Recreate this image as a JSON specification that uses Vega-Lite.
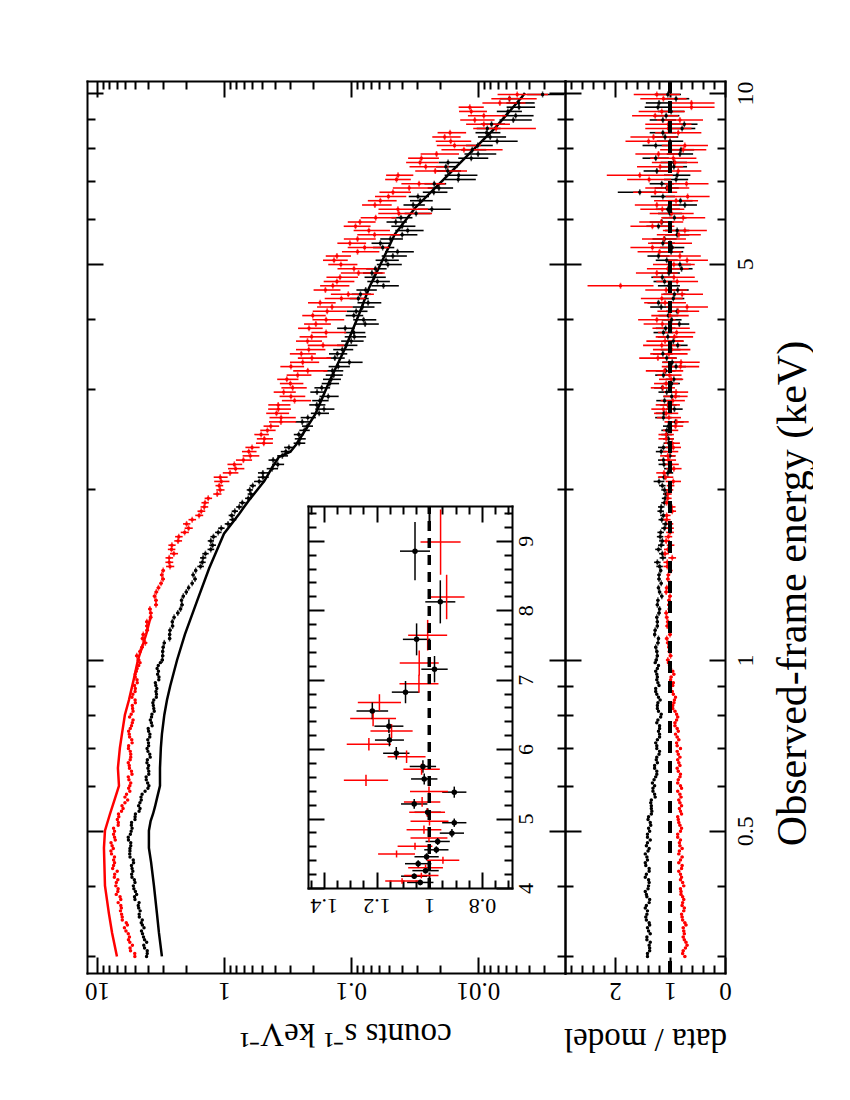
{
"$schema":"https://vega.github.io/schema/vega-lite/v6.json",
"padding":{"left":84,"top":79,"right":0,"bottom":0},
"background":"white",
"spacing":0,
"bounds":"flush",
"config":{"view":{"stroke":null},"font":"Liberation Serif",
"axis":{"grid":false,"domainColor":"black","tickColor":"black","labelColor":"black","titleColor":"black","domainWidth":2,"tickWidth":2,"labelFont":"Liberation Serif","titleFont":"Liberation Serif","titleFontWeight":"normal","labelFontSize":24,"labelFlush":false,"labelOverlap":false,"labelBound":false,"domainCap":"square","titleLimit":1000}},
"datasets":{
"model":[
{"s":"b","e":0.30,"m":3.08},{"s":"b","e":0.33,"m":3.25},{"s":"b","e":0.357,"m":3.37},{"s":"b","e":0.40,"m":3.56},{"s":"b","e":0.44,"m":3.75},{"s":"b","e":0.466,"m":3.90},{"s":"b","e":0.50,"m":3.90},{"s":"b","e":0.52,"m":3.78},{"s":"b","e":0.535,"m":3.62},{"s":"b","e":0.55,"m":3.50},{"s":"b","e":0.57,"m":3.37},{"s":"b","e":0.60,"m":3.19},{"s":"b","e":0.645,"m":3.19},{"s":"b","e":0.70,"m":3.14},{"s":"b","e":0.74,"m":3.08},{"s":"b","e":0.80,"m":2.95},{"s":"b","e":0.85,"m":2.81},{"s":"b","e":0.90,"m":2.65},{"s":"b","e":1.0,"m":2.34},{"s":"b","e":1.11,"m":2.03},{"s":"b","e":1.27,"m":1.63},{"s":"b","e":1.45,"m":1.31},{"s":"b","e":1.67,"m":1.00},{"s":"b","e":1.81,"m":0.76},{"s":"b","e":1.91,"m":0.64},{"s":"b","e":2.07,"m":0.48},{"s":"b","e":2.18,"m":0.42},{"s":"b","e":2.28,"m":0.37},{"s":"b","e":2.33,"m":0.30},{"s":"b","e":2.40,"m":0.27},{"s":"b","e":2.72,"m":0.19},{"s":"b","e":3.10,"m":0.148},{"s":"b","e":3.55,"m":0.111},{"s":"b","e":4.08,"m":0.0861},{"s":"b","e":4.53,"m":0.0721},{"s":"b","e":5.05,"m":0.0570},{"s":"b","e":5.64,"m":0.0451},{"s":"b","e":6.27,"m":0.0313},{"s":"b","e":6.99,"m":0.0192},{"s":"b","e":7.80,"m":0.0118},{"s":"b","e":8.67,"m":0.00735},{"s":"b","e":9.84,"m":0.00451},{"s":"b","e":10.0,"m":0.00427},
{"s":"r","e":0.30,"m":6.96},{"s":"r","e":0.33,"m":7.6},{"s":"r","e":0.357,"m":8.05},{"s":"r","e":0.40,"m":8.65},{"s":"r","e":0.466,"m":8.81},{"s":"r","e":0.50,"m":8.65},{"s":"r","e":0.535,"m":7.90},{"s":"r","e":0.57,"m":7.21},{"s":"r","e":0.60,"m":6.71},{"s":"r","e":0.645,"m":6.84},{"s":"r","e":0.70,"m":6.6},{"s":"r","e":0.74,"m":6.36},{"s":"r","e":0.80,"m":6.03},{"s":"r","e":0.85,"m":5.6},{"s":"r","e":0.93,"m":5.1},{"s":"r","e":1.0,"m":4.76},{"s":"r","e":1.11,"m":4.1},{"s":"r","e":1.2,"m":3.75}
],
"spec":[
{"s":"b","e":0.300,"c":4.07,"dc":0.06,"r":1.41,"dr":0.02},{"s":"b","e":0.307,"c":4.02,"dc":0.06,"r":1.37,"dr":0.02},{"s":"b","e":0.314,"c":4.28,"dc":0.06,"r":1.38,"dr":0.02},{"s":"b","e":0.321,"c":4.22,"dc":0.06,"r":1.42,"dr":0.02},{"s":"b","e":0.329,"c":4.38,"dc":0.06,"r":1.36,"dr":0.02},{"s":"b","e":0.337,"c":4.26,"dc":0.06,"r":1.41,"dr":0.02},{"s":"b","e":0.344,"c":4.48,"dc":0.07,"r":1.38,"dr":0.02},{"s":"b","e":0.352,"c":4.64,"dc":0.07,"r":1.44,"dr":0.02},{"s":"b","e":0.361,"c":4.57,"dc":0.07,"r":1.41,"dr":0.02},{"s":"b","e":0.369,"c":4.73,"dc":0.07,"r":1.43,"dr":0.02},{"s":"b","e":0.378,"c":5.02,"dc":0.07,"r":1.37,"dr":0.02},{"s":"b","e":0.386,"c":4.87,"dc":0.07,"r":1.43,"dr":0.02},{"s":"b","e":0.395,"c":5.12,"dc":0.08,"r":1.40,"dr":0.02},{"s":"b","e":0.405,"c":5.02,"dc":0.08,"r":1.38,"dr":0.02},{"s":"b","e":0.414,"c":5.30,"dc":0.08,"r":1.45,"dr":0.02},{"s":"b","e":0.424,"c":5.22,"dc":0.08,"r":1.38,"dr":0.02},{"s":"b","e":0.434,"c":5.35,"dc":0.08,"r":1.44,"dr":0.02},{"s":"b","e":0.444,"c":5.18,"dc":0.08,"r":1.41,"dr":0.02},{"s":"b","e":0.455,"c":5.52,"dc":0.08,"r":1.45,"dr":0.02},{"s":"b","e":0.465,"c":5.50,"dc":0.08,"r":1.38,"dr":0.02},{"s":"b","e":0.476,"c":5.42,"dc":0.08,"r":1.41,"dr":0.02},{"s":"b","e":0.487,"c":5.67,"dc":0.08,"r":1.41,"dr":0.02},{"s":"b","e":0.499,"c":5.38,"dc":0.08,"r":1.37,"dr":0.02},{"s":"b","e":0.511,"c":5.36,"dc":0.08,"r":1.35,"dr":0.02},{"s":"b","e":0.523,"c":5.02,"dc":0.08,"r":1.40,"dr":0.02},{"s":"b","e":0.535,"c":4.98,"dc":0.07,"r":1.34,"dr":0.02},{"s":"b","e":0.547,"c":4.58,"dc":0.07,"r":1.34,"dr":0.02},{"s":"b","e":0.560,"c":4.59,"dc":0.07,"r":1.35,"dr":0.02},{"s":"b","e":0.573,"c":4.50,"dc":0.07,"r":1.27,"dr":0.02},{"s":"b","e":0.587,"c":4.18,"dc":0.06,"r":1.31,"dr":0.02},{"s":"b","e":0.600,"c":3.90,"dc":0.06,"r":1.28,"dr":0.02},{"s":"b","e":0.615,"c":4.09,"dc":0.06,"r":1.29,"dr":0.02},{"s":"b","e":0.629,"c":3.91,"dc":0.06,"r":1.24,"dr":0.02},{"s":"b","e":0.644,"c":3.97,"dc":0.06,"r":1.28,"dr":0.02},{"s":"b","e":0.659,"c":4.04,"dc":0.06,"r":1.23,"dr":0.02},{"s":"b","e":0.674,"c":3.81,"dc":0.06,"r":1.24,"dr":0.02},{"s":"b","e":0.690,"c":3.97,"dc":0.06,"r":1.19,"dr":0.02},{"s":"b","e":0.706,"c":3.92,"dc":0.06,"r":1.24,"dr":0.02},{"s":"b","e":0.723,"c":3.98,"dc":0.06,"r":1.23,"dr":0.02},{"s":"b","e":0.740,"c":3.83,"dc":0.06,"r":1.19,"dr":0.02},{"s":"b","e":0.757,"c":3.95,"dc":0.06,"r":1.19,"dr":0.02},{"s":"b","e":0.775,"c":3.73,"dc":0.06,"r":1.24,"dr":0.02},{"s":"b","e":0.793,"c":3.72,"dc":0.06,"r":1.17,"dr":0.02},{"s":"b","e":0.812,"c":3.54,"dc":0.05,"r":1.21,"dr":0.02},{"s":"b","e":0.831,"c":3.60,"dc":0.05,"r":1.23,"dr":0.02},{"s":"b","e":0.850,"c":3.57,"dc":0.05,"r":1.18,"dr":0.02},{"s":"b","e":0.870,"c":3.40,"dc":0.05,"r":1.24,"dr":0.02},{"s":"b","e":0.891,"c":3.38,"dc":0.05,"r":1.26,"dr":0.02},{"s":"b","e":0.912,"c":3.47,"dc":0.05,"r":1.22,"dr":0.02},{"s":"b","e":0.933,"c":3.25,"dc":0.05,"r":1.23,"dr":0.02},{"s":"b","e":0.955,"c":3.28,"dc":0.05,"r":1.26,"dr":0.02},{"s":"b","e":0.978,"c":3.29,"dc":0.05,"r":1.21,"dr":0.02},
{"s":"b","e":0.3035,"c":4.02,"dc":0.06,"r":1.41,"dr":0.02},{"s":"b","e":0.3106,"c":4.22,"dc":0.06,"r":1.37,"dr":0.02},{"s":"b","e":0.3177,"c":4.06,"dc":0.06,"r":1.36,"dr":0.02},{"s":"b","e":0.3248,"c":4.30,"dc":0.06,"r":1.42,"dr":0.02},{"s":"b","e":0.3328,"c":4.46,"dc":0.06,"r":1.39,"dr":0.02},{"s":"b","e":0.3409,"c":4.39,"dc":0.06,"r":1.37,"dr":0.02},{"s":"b","e":0.348,"c":4.40,"dc":0.07,"r":1.43,"dr":0.02},{"s":"b","e":0.3561,"c":4.65,"dc":0.07,"r":1.42,"dr":0.02},{"s":"b","e":0.3652,"c":4.69,"dc":0.07,"r":1.45,"dr":0.02},{"s":"b","e":0.3733,"c":4.66,"dc":0.07,"r":1.38,"dr":0.02},{"s":"b","e":0.3824,"c":5.06,"dc":0.07,"r":1.42,"dr":0.02},{"s":"b","e":0.3905,"c":4.98,"dc":0.07,"r":1.45,"dr":0.02},{"s":"b","e":0.3996,"c":5.17,"dc":0.08,"r":1.39,"dr":0.02},{"s":"b","e":0.4097,"c":5.08,"dc":0.08,"r":1.39,"dr":0.02},{"s":"b","e":0.4188,"c":5.33,"dc":0.08,"r":1.43,"dr":0.02},{"s":"b","e":0.4289,"c":5.29,"dc":0.08,"r":1.38,"dr":0.02},{"s":"b","e":0.439,"c":5.15,"dc":0.08,"r":1.45,"dr":0.02},{"s":"b","e":0.4492,"c":5.49,"dc":0.08,"r":1.42,"dr":0.02},{"s":"b","e":0.4603,"c":5.50,"dc":0.08,"r":1.40,"dr":0.02},{"s":"b","e":0.4704,"c":5.42,"dc":0.08,"r":1.43,"dr":0.02},{"s":"b","e":0.4815,"c":5.65,"dc":0.08,"r":1.36,"dr":0.02},{"s":"b","e":0.4926,"c":5.46,"dc":0.08,"r":1.41,"dr":0.02},{"s":"b","e":0.5048,"c":5.29,"dc":0.08,"r":1.39,"dr":0.02},{"s":"b","e":0.5169,"c":5.34,"dc":0.08,"r":1.36,"dr":0.02},{"s":"b","e":0.5291,"c":5.01,"dc":0.08,"r":1.39,"dr":0.02},{"s":"b","e":0.5412,"c":4.66,"dc":0.07,"r":1.33,"dr":0.02},{"s":"b","e":0.5533,"c":4.70,"dc":0.07,"r":1.34,"dr":0.02},{"s":"b","e":0.5665,"c":4.48,"dc":0.07,"r":1.34,"dr":0.02},{"s":"b","e":0.5796,"c":4.41,"dc":0.07,"r":1.28,"dr":0.02},{"s":"b","e":0.5938,"c":3.97,"dc":0.06,"r":1.31,"dr":0.02},{"s":"b","e":0.607,"c":3.99,"dc":0.06,"r":1.32,"dr":0.02},{"s":"b","e":0.6221,"c":4.10,"dc":0.06,"r":1.26,"dr":0.02},{"s":"b","e":0.6363,"c":3.91,"dc":0.06,"r":1.24,"dr":0.02},{"s":"b","e":0.6515,"c":3.92,"dc":0.06,"r":1.28,"dr":0.02},{"s":"b","e":0.6666,"c":4.01,"dc":0.06,"r":1.25,"dr":0.02},{"s":"b","e":0.6818,"c":3.84,"dc":0.06,"r":1.20,"dr":0.02},{"s":"b","e":0.698,"c":4.03,"dc":0.06,"r":1.24,"dr":0.02},{"s":"b","e":0.7142,"c":3.93,"dc":0.06,"r":1.26,"dr":0.02},{"s":"b","e":0.7314,"c":3.84,"dc":0.06,"r":1.19,"dr":0.02},{"s":"b","e":0.7486,"c":3.92,"dc":0.06,"r":1.21,"dr":0.02},{"s":"b","e":0.7658,"c":3.68,"dc":0.06,"r":1.19,"dr":0.02},{"s":"b","e":0.784,"c":3.80,"dc":0.06,"r":1.22,"dr":0.02},{"s":"b","e":0.8022,"c":3.69,"dc":0.06,"r":1.16,"dr":0.02},{"s":"b","e":0.8214,"c":3.57,"dc":0.05,"r":1.23,"dr":0.02},{"s":"b","e":0.8406,"c":3.63,"dc":0.05,"r":1.22,"dr":0.02},{"s":"b","e":0.8599,"c":3.41,"dc":0.05,"r":1.21,"dr":0.02},{"s":"b","e":0.8801,"c":3.43,"dc":0.05,"r":1.26,"dr":0.02},{"s":"b","e":0.9013,"c":3.44,"dc":0.05,"r":1.20,"dr":0.02},{"s":"b","e":0.9226,"c":3.26,"dc":0.05,"r":1.24,"dr":0.02},{"s":"b","e":0.9438,"c":3.33,"dc":0.05,"r":1.24,"dr":0.02},{"s":"b","e":0.9661,"c":3.36,"dc":0.05,"r":1.23,"dr":0.02},{"s":"b","e":0.9893,"c":3.17,"dc":0.05,"r":1.27,"dr":0.02},
{"s":"b","e":1.000,"c":3.06,"dc":0.095,"r":1.25,"dr":0.03},{"s":"b","e":1.035,"c":3.04,"dc":0.090,"r":1.24,"dr":0.03},{"s":"b","e":1.072,"c":2.95,"dc":0.086,"r":1.22,"dr":0.03},{"s":"b","e":1.109,"c":2.68,"dc":0.082,"r":1.28,"dr":0.03},{"s":"b","e":1.148,"c":2.54,"dc":0.077,"r":1.23,"dr":0.03},{"s":"b","e":1.189,"c":2.47,"dc":0.072,"r":1.24,"dr":0.03},{"s":"b","e":1.230,"c":2.20,"dc":0.068,"r":1.19,"dr":0.03},{"s":"b","e":1.274,"c":2.16,"dc":0.064,"r":1.22,"dr":0.03},{"s":"b","e":1.318,"c":1.98,"dc":0.059,"r":1.19,"dr":0.03},{"s":"b","e":1.365,"c":1.78,"dc":0.055,"r":1.16,"dr":0.03},{"s":"b","e":1.413,"c":1.75,"dc":0.050,"r":1.20,"dr":0.03},{"s":"b","e":1.462,"c":1.53,"dc":0.091,"r":1.19,"dr":0.059},{"s":"b","e":1.514,"c":1.46,"dc":0.083,"r":1.13,"dr":0.059},{"s":"b","e":1.567,"c":1.27,"dc":0.077,"r":1.21,"dr":0.059},{"s":"b","e":1.622,"c":1.27,"dc":0.072,"r":1.14,"dr":0.059},{"s":"b","e":1.679,"c":1.11,"dc":0.065,"r":1.17,"dr":0.059},{"s":"b","e":1.738,"c":0.929,"dc":0.057,"r":1.08,"dr":0.059},{"s":"b","e":1.799,"c":0.870,"dc":0.049,"r":1.12,"dr":0.059},{"s":"b","e":1.862,"c":0.758,"dc":0.044,"r":1.16,"dr":0.059},{"s":"b","e":1.928,"c":0.643,"dc":0.039,"r":1.09,"dr":0.059},{"s":"b","e":1.995,"c":0.627,"dc":0.035,"r":1.10,"dr":0.059},{"s":"b","e":2.065,"c":0.528,"dc":0.052,"r":1.20,"dr":0.098},{"s":"b","e":2.138,"c":0.494,"dc":0.046,"r":1.04,"dr":0.098},{"s":"b","e":2.213,"c":0.377,"dc":0.041,"r":1.11,"dr":0.098},{"s":"b","e":2.291,"c":0.347,"dc":0.034,"r":1.00,"dr":0.098},{"s":"b","e":2.371,"c":0.308,"dc":0.028,"r":1.12,"dr":0.098},{"s":"b","e":2.455,"c":0.252,"dc":0.025,"r":1.03,"dr":0.098},{"s":"b","e":2.541,"c":0.233,"dc":0.022,"r":1.06,"dr":0.098},{"s":"b","e":2.630,"c":0.242,"dc":0.032,"r":0.90,"dr":0.15},{"s":"b","e":2.723,"c":0.178,"dc":0.029,"r":1.11,"dr":0.15},{"s":"b","e":2.818,"c":0.186,"dc":0.027,"r":1.03,"dr":0.15},{"s":"b","e":2.917,"c":0.151,"dc":0.026,"r":0.97,"dr":0.15},{"s":"b","e":3.020,"c":0.170,"dc":0.024,"r":1.14,"dr":0.15},{"s":"b","e":3.126,"c":0.143,"dc":0.023,"r":0.93,"dr":0.15},{"s":"b","e":3.236,"c":0.140,"dc":0.025,"r":1.08,"dr":0.18},{"s":"b","e":3.350,"c":0.103,"dc":0.022,"r":0.96,"dr":0.18},{"s":"b","e":3.467,"c":0.128,"dc":0.021,"r":1.13,"dr":0.18},{"s":"b","e":3.589,"c":0.109,"dc":0.020,"r":0.86,"dr":0.18},{"s":"b","e":3.715,"c":0.094,"dc":0.018,"r":1.04,"dr":0.18},{"s":"b","e":3.846,"c":0.111,"dc":0.0175,"r":1.08,"dr":0.18},{"s":"b","e":3.981,"c":0.0796,"dc":0.0164,"r":0.97,"dr":0.18},{"s":"b","e":4.121,"c":0.0910,"dc":0.0169,"r":0.87,"dr":0.20},{"s":"b","e":4.266,"c":0.0733,"dc":0.0156,"r":1.21,"dr":0.20},{"s":"b","e":4.416,"c":0.0842,"dc":0.0145,"r":0.92,"dr":0.20},{"s":"b","e":4.571,"c":0.0555,"dc":0.0135,"r":1.02,"dr":0.20},{"s":"b","e":4.732,"c":0.0657,"dc":0.0125,"r":1.14,"dr":0.20},{"s":"b","e":4.898,"c":0.0642,"dc":0.0118,"r":0.79,"dr":0.20},{"s":"b","e":5.070,"c":0.0530,"dc":0.0110,"r":1.06,"dr":0.20},{"s":"b","e":5.248,"c":0.0430,"dc":0.0110,"r":0.98,"dr":0.22},{"s":"b","e":5.433,"c":0.0587,"dc":0.0102,"r":1.13,"dr":0.22},{"s":"b","e":5.623,"c":0.0395,"dc":0.0095,"r":0.87,"dr":0.22},{"s":"b","e":5.821,"c":0.0396,"dc":0.0085,"r":1.21,"dr":0.22},{"s":"b","e":6.026,"c":0.0404,"dc":0.0076,"r":0.92,"dr":0.22},{"s":"b","e":6.237,"c":0.0231,"dc":0.0067,"r":1.04,"dr":0.22},{"s":"b","e":6.457,"c":0.0285,"dc":0.0058,"r":0.81,"dr":0.22},{"s":"b","e":6.683,"c":0.0223,"dc":0.0049,"r":1.55,"dr":0.40},{"s":"b","e":6.918,"c":0.0221,"dc":0.0043,"r":1.15,"dr":0.22},{"s":"b","e":7.161,"c":0.0142,"dc":0.0041,"r":0.87,"dr":0.24},{"s":"b","e":7.413,"c":0.0179,"dc":0.0035,"r":0.93,"dr":0.24},{"s":"b","e":7.674,"c":0.0113,"dc":0.0030,"r":1.26,"dr":0.24},{"s":"b","e":7.943,"c":0.0111,"dc":0.0025,"r":0.80,"dr":0.24},{"s":"b","e":8.222,"c":0.00707,"dc":0.0022,"r":1.00,"dr":0.24},{"s":"b","e":8.511,"c":0.00856,"dc":0.0019,"r":1.13,"dr":0.24},{"s":"b","e":8.810,"c":0.00782,"dc":0.0017,"r":0.74,"dr":0.24},{"s":"b","e":9.120,"c":0.00505,"dc":0.0014,"r":1.07,"dr":0.24},{"s":"b","e":9.441,"c":0.00475,"dc":0.0012,"r":1.22,"dr":0.24},{"s":"b","e":9.772,"c":0.00565,"dc":0.0011,"r":0.89,"dr":0.24},
{"s":"b","e":1.017,"c":3.04,"dc":0.093,"r":1.23,"dr":0.03},{"s":"b","e":1.053,"c":3.01,"dc":0.088,"r":1.26,"dr":0.03},{"s":"b","e":1.091,"c":2.68,"dc":0.084,"r":1.21,"dr":0.03},{"s":"b","e":1.128,"c":2.66,"dc":0.079,"r":1.27,"dr":0.03},{"s":"b","e":1.168,"c":2.55,"dc":0.074,"r":1.23,"dr":0.03},{"s":"b","e":1.210,"c":2.31,"dc":0.070,"r":1.20,"dr":0.03},{"s":"b","e":1.251,"c":2.14,"dc":0.066,"r":1.23,"dr":0.03},{"s":"b","e":1.296,"c":2.09,"dc":0.062,"r":1.15,"dr":0.03},{"s":"b","e":1.341,"c":1.90,"dc":0.057,"r":1.21,"dr":0.03},{"s":"b","e":1.389,"c":1.69,"dc":0.053,"r":1.20,"dr":0.03},{"s":"b","e":1.438,"c":1.67,"dc":0.048,"r":1.17,"dr":0.03},{"s":"b","e":1.487,"c":1.48,"dc":0.087,"r":1.23,"dr":0.059},{"s":"b","e":1.540,"c":1.40,"dc":0.081,"r":1.14,"dr":0.059},{"s":"b","e":1.594,"c":1.23,"dc":0.074,"r":1.16,"dr":0.059},{"s":"b","e":1.650,"c":1.21,"dc":0.069,"r":1.18,"dr":0.059},{"s":"b","e":1.708,"c":1.05,"dc":0.061,"r":1.10,"dr":0.059},{"s":"b","e":1.768,"c":0.853,"dc":0.053,"r":1.15,"dr":0.059},{"s":"b","e":1.830,"c":0.822,"dc":0.047,"r":1.17,"dr":0.059},{"s":"b","e":1.894,"c":0.717,"dc":0.042,"r":1.10,"dr":0.059},{"s":"b","e":1.962,"c":0.615,"dc":0.036,"r":1.07,"dr":0.059},{"s":"b","e":2.030,"c":0.594,"dc":0.033,"r":1.14,"dr":0.059},{"s":"b","e":2.101,"c":0.493,"dc":0.049,"r":1.11,"dr":0.098},{"s":"b","e":2.175,"c":0.418,"dc":0.043,"r":1.01,"dr":0.098},{"s":"b","e":2.252,"c":0.410,"dc":0.036,"r":1.12,"dr":0.098},{"s":"b","e":2.331,"c":0.326,"dc":0.031,"r":1.16,"dr":0.098},{"s":"b","e":2.412,"c":0.256,"dc":0.027,"r":1.02,"dr":0.098},{"s":"b","e":2.498,"c":0.258,"dc":0.024,"r":1.06,"dr":0.098},{"s":"b","e":2.585,"c":0.221,"dc":0.022,"r":1.03,"dr":0.098},{"s":"b","e":2.676,"c":0.219,"dc":0.030,"r":1.12,"dr":0.15},{"s":"b","e":2.770,"c":0.163,"dc":0.028,"r":0.92,"dr":0.15},{"s":"b","e":2.867,"c":0.176,"dc":0.026,"r":1.10,"dr":0.15},{"s":"b","e":2.968,"c":0.185,"dc":0.024,"r":1.06,"dr":0.15},{"s":"b","e":3.073,"c":0.147,"dc":0.023,"r":0.97,"dr":0.15},{"s":"b","e":3.180,"c":0.137,"dc":0.021,"r":1.12,"dr":0.15},{"s":"b","e":3.292,"c":0.126,"dc":0.024,"r":0.89,"dr":0.18},{"s":"b","e":3.408,"c":0.134,"dc":0.022,"r":1.06,"dr":0.18},{"s":"b","e":3.527,"c":0.117,"dc":0.021,"r":0.99,"dr":0.18},{"s":"b","e":3.651,"c":0.0995,"dc":0.020,"r":0.94,"dr":0.18},{"s":"b","e":3.780,"c":0.0951,"dc":0.018,"r":1.12,"dr":0.18},{"s":"b","e":3.913,"c":0.0774,"dc":0.017,"r":0.83,"dr":0.18},{"s":"b","e":4.050,"c":0.0951,"dc":0.015,"r":1.03,"dr":0.18},{"s":"b","e":4.193,"c":0.0813,"dc":0.016,"r":1.16,"dr":0.20},{"s":"b","e":4.340,"c":0.0875,"dc":0.015,"r":0.94,"dr":0.20},{"s":"b","e":4.493,"c":0.0766,"dc":0.014,"r":0.86,"dr":0.20},{"s":"b","e":4.651,"c":0.0619,"dc":0.0125,"r":1.10,"dr":0.20},{"s":"b","e":4.814,"c":0.0684,"dc":0.012,"r":1.02,"dr":0.20},{"s":"b","e":4.983,"c":0.0512,"dc":0.0114,"r":0.82,"dr":0.20},{"s":"b","e":5.158,"c":0.0468,"dc":0.0105,"r":1.21,"dr":0.20},{"s":"b","e":5.339,"c":0.0563,"dc":0.0107,"r":0.96,"dr":0.22},{"s":"b","e":5.528,"c":0.0489,"dc":0.0099,"r":1.10,"dr":0.22},{"s":"b","e":5.721,"c":0.0358,"dc":0.0090,"r":0.87,"dr":0.22},{"s":"b","e":5.922,"c":0.0444,"dc":0.0081,"r":1.15,"dr":0.22},{"s":"b","e":6.131,"c":0.0307,"dc":0.0071,"r":1.00,"dr":0.22},{"s":"b","e":6.346,"c":0.0324,"dc":0.0062,"r":0.73,"dr":0.22},{"s":"b","e":6.569,"c":0.0297,"dc":0.0054,"r":1.13,"dr":0.22},{"s":"b","e":6.799,"c":0.0203,"dc":0.0046,"r":1.06,"dr":0.22},{"s":"b","e":7.038,"c":0.0143,"dc":0.0039,"r":0.89,"dr":0.22},{"s":"b","e":7.286,"c":0.0173,"dc":0.0037,"r":1.24,"dr":0.24},{"s":"b","e":7.542,"c":0.0172,"dc":0.0032,"r":0.93,"dr":0.24},{"s":"b","e":7.807,"c":0.00998,"dc":0.0028,"r":0.82,"dr":0.24},{"s":"b","e":8.081,"c":0.01005,"dc":0.0024,"r":1.26,"dr":0.24},{"s":"b","e":8.365,"c":0.00801,"dc":0.0020,"r":1.09,"dr":0.24},{"s":"b","e":8.659,"c":0.00844,"dc":0.0018,"r":0.78,"dr":0.24},{"s":"b","e":8.963,"c":0.00527,"dc":0.0015,"r":1.13,"dr":0.24},{"s":"b","e":9.279,"c":0.00581,"dc":0.0013,"r":0.98,"dr":0.24},{"s":"b","e":9.605,"c":0.00478,"dc":0.0012,"r":1.20,"dr":0.24},{"s":"b","e":9.942,"c":0.0031,"dc":0.0010,"r":1.04,"dr":0.24},
{"s":"r","e":0.300,"c":5.03,"dc":0.10,"r":0.73,"dr":0.025},{"s":"r","e":0.307,"c":5.44,"dc":0.11,"r":0.76,"dr":0.025},{"s":"r","e":0.314,"c":5.26,"dc":0.11,"r":0.69,"dr":0.025},{"s":"r","e":0.321,"c":5.65,"dc":0.11,"r":0.74,"dr":0.025},{"s":"r","e":0.329,"c":5.67,"dc":0.11,"r":0.74,"dr":0.025},{"s":"r","e":0.337,"c":6.08,"dc":0.12,"r":0.76,"dr":0.025},{"s":"r","e":0.344,"c":5.88,"dc":0.12,"r":0.73,"dr":0.025},{"s":"r","e":0.352,"c":6.33,"dc":0.13,"r":0.78,"dr":0.025},{"s":"r","e":0.361,"c":6.53,"dc":0.13,"r":0.75,"dr":0.025},{"s":"r","e":0.369,"c":6.49,"dc":0.13,"r":0.78,"dr":0.025},{"s":"r","e":0.378,"c":6.49,"dc":0.13,"r":0.75,"dr":0.025},{"s":"r","e":0.386,"c":7.05,"dc":0.14,"r":0.80,"dr":0.025},{"s":"r","e":0.395,"c":6.82,"dc":0.14,"r":0.81,"dr":0.025},{"s":"r","e":0.405,"c":7.04,"dc":0.14,"r":0.77,"dr":0.025},{"s":"r","e":0.414,"c":7.30,"dc":0.15,"r":0.79,"dr":0.025},{"s":"r","e":0.424,"c":6.93,"dc":0.14,"r":0.84,"dr":0.025},{"s":"r","e":0.434,"c":7.40,"dc":0.15,"r":0.78,"dr":0.025},{"s":"r","e":0.444,"c":7.39,"dc":0.15,"r":0.81,"dr":0.025},{"s":"r","e":0.455,"c":7.68,"dc":0.15,"r":0.84,"dr":0.025},{"s":"r","e":0.465,"c":7.44,"dc":0.15,"r":0.78,"dr":0.025},{"s":"r","e":0.476,"c":7.75,"dc":0.15,"r":0.83,"dr":0.025},{"s":"r","e":0.487,"c":7.27,"dc":0.15,"r":0.86,"dr":0.025},{"s":"r","e":0.499,"c":7.27,"dc":0.15,"r":0.81,"dr":0.025},{"s":"r","e":0.511,"c":6.81,"dc":0.14,"r":0.82,"dr":0.025},{"s":"r","e":0.523,"c":6.91,"dc":0.14,"r":0.85,"dr":0.025},{"s":"r","e":0.535,"c":6.77,"dc":0.14,"r":0.79,"dr":0.025},{"s":"r","e":0.547,"c":6.23,"dc":0.13,"r":0.83,"dr":0.025},{"s":"r","e":0.560,"c":6.02,"dc":0.12,"r":0.82,"dr":0.025},{"s":"r","e":0.573,"c":6.02,"dc":0.12,"r":0.80,"dr":0.025},{"s":"r","e":0.587,"c":5.51,"dc":0.11,"r":0.86,"dr":0.025},{"s":"r","e":0.600,"c":5.51,"dc":0.11,"r":0.81,"dr":0.025},{"s":"r","e":0.615,"c":5.60,"dc":0.11,"r":0.85,"dr":0.025},{"s":"r","e":0.629,"c":5.30,"dc":0.11,"r":0.81,"dr":0.025},{"s":"r","e":0.644,"c":5.55,"dc":0.11,"r":0.87,"dr":0.025},{"s":"r","e":0.659,"c":5.67,"dc":0.11,"r":0.84,"dr":0.025},{"s":"r","e":0.674,"c":5.42,"dc":0.11,"r":0.82,"dr":0.025},{"s":"r","e":0.690,"c":5.47,"dc":0.11,"r":0.87,"dr":0.025},{"s":"r","e":0.706,"c":5.63,"dc":0.11,"r":0.87,"dr":0.025},{"s":"r","e":0.723,"c":5.32,"dc":0.11,"r":0.84,"dr":0.025},{"s":"r","e":0.740,"c":5.57,"dc":0.11,"r":0.90,"dr":0.025},{"s":"r","e":0.757,"c":5.47,"dc":0.11,"r":0.87,"dr":0.025},{"s":"r","e":0.775,"c":5.27,"dc":0.11,"r":0.91,"dr":0.025},{"s":"r","e":0.793,"c":5.53,"dc":0.11,"r":0.86,"dr":0.025},{"s":"r","e":0.812,"c":5.20,"dc":0.10,"r":0.91,"dr":0.025},{"s":"r","e":0.831,"c":5.27,"dc":0.10,"r":0.95,"dr":0.025},{"s":"r","e":0.850,"c":5.01,"dc":0.10,"r":0.92,"dr":0.025},{"s":"r","e":0.870,"c":5.21,"dc":0.10,"r":0.94,"dr":0.025},{"s":"r","e":0.891,"c":4.99,"dc":0.10,"r":0.99,"dr":0.025},{"s":"r","e":0.912,"c":4.82,"dc":0.10,"r":0.94,"dr":0.025},{"s":"r","e":0.933,"c":5.00,"dc":0.10,"r":0.98,"dr":0.025},{"s":"r","e":0.955,"c":4.90,"dc":0.10,"r":0.95,"dr":0.025},{"s":"r","e":0.978,"c":4.69,"dc":0.09,"r":1.01,"dr":0.025},
{"s":"r","e":0.3035,"c":5.04,"dc":0.10,"r":0.77,"dr":0.025},{"s":"r","e":0.3106,"c":5.49,"dc":0.11,"r":0.72,"dr":0.025},{"s":"r","e":0.3177,"c":5.51,"dc":0.11,"r":0.71,"dr":0.025},{"s":"r","e":0.3248,"c":5.55,"dc":0.11,"r":0.76,"dr":0.025},{"s":"r","e":0.3328,"c":5.91,"dc":0.12,"r":0.75,"dr":0.025},{"s":"r","e":0.3409,"c":5.76,"dc":0.12,"r":0.71,"dr":0.025},{"s":"r","e":0.348,"c":6.32,"dc":0.12,"r":0.77,"dr":0.025},{"s":"r","e":0.3561,"c":6.40,"dc":0.13,"r":0.79,"dr":0.025},{"s":"r","e":0.3652,"c":6.43,"dc":0.13,"r":0.74,"dr":0.025},{"s":"r","e":0.3733,"c":6.81,"dc":0.13,"r":0.77,"dr":0.025},{"s":"r","e":0.3824,"c":6.58,"dc":0.13,"r":0.77,"dr":0.025},{"s":"r","e":0.3905,"c":6.85,"dc":0.14,"r":0.80,"dr":0.025},{"s":"r","e":0.3996,"c":7.10,"dc":0.14,"r":0.75,"dr":0.025},{"s":"r","e":0.4097,"c":6.85,"dc":0.14,"r":0.81,"dr":0.025},{"s":"r","e":0.4188,"c":7.25,"dc":0.14,"r":0.81,"dr":0.025},{"s":"r","e":0.4289,"c":7.52,"dc":0.15,"r":0.79,"dr":0.025},{"s":"r","e":0.439,"c":7.27,"dc":0.15,"r":0.84,"dr":0.025},{"s":"r","e":0.4492,"c":7.28,"dc":0.15,"r":0.78,"dr":0.025},{"s":"r","e":0.4603,"c":7.76,"dc":0.15,"r":0.83,"dr":0.025},{"s":"r","e":0.4704,"c":7.60,"dc":0.15,"r":0.82,"dr":0.025},{"s":"r","e":0.4815,"c":7.18,"dc":0.15,"r":0.81,"dr":0.025},{"s":"r","e":0.4926,"c":7.40,"dc":0.15,"r":0.86,"dr":0.025},{"s":"r","e":0.5048,"c":7.40,"dc":0.14,"r":0.79,"dr":0.025},{"s":"r","e":0.5169,"c":6.79,"dc":0.14,"r":0.84,"dr":0.025},{"s":"r","e":0.5291,"c":6.73,"dc":0.13,"r":0.86,"dr":0.025},{"s":"r","e":0.5412,"c":6.41,"dc":0.13,"r":0.81,"dr":0.025},{"s":"r","e":0.5533,"c":6.35,"dc":0.12,"r":0.79,"dr":0.025},{"s":"r","e":0.5665,"c":5.73,"dc":0.12,"r":0.84,"dr":0.025},{"s":"r","e":0.5796,"c":5.85,"dc":0.11,"r":0.82,"dr":0.025},{"s":"r","e":0.5938,"c":5.63,"dc":0.11,"r":0.79,"dr":0.025},{"s":"r","e":0.607,"c":5.42,"dc":0.11,"r":0.86,"dr":0.025},{"s":"r","e":0.6221,"c":5.67,"dc":0.11,"r":0.82,"dr":0.025},{"s":"r","e":0.6363,"c":5.35,"dc":0.11,"r":0.85,"dr":0.025},{"s":"r","e":0.6515,"c":5.57,"dc":0.11,"r":0.82,"dr":0.025},{"s":"r","e":0.6666,"c":5.48,"dc":0.11,"r":0.86,"dr":0.025},{"s":"r","e":0.6818,"c":5.42,"dc":0.11,"r":0.85,"dr":0.025},{"s":"r","e":0.698,"c":5.65,"dc":0.11,"r":0.81,"dr":0.025},{"s":"r","e":0.7142,"c":5.29,"dc":0.11,"r":0.88,"dr":0.025},{"s":"r","e":0.7314,"c":5.53,"dc":0.11,"r":0.87,"dr":0.025},{"s":"r","e":0.7486,"c":5.63,"dc":0.11,"r":0.85,"dr":0.025},{"s":"r","e":0.7658,"c":5.35,"dc":0.11,"r":0.91,"dr":0.025},{"s":"r","e":0.784,"c":5.20,"dc":0.11,"r":0.88,"dr":0.025},{"s":"r","e":0.8022,"c":5.38,"dc":0.11,"r":0.88,"dr":0.025},{"s":"r","e":0.8214,"c":5.24,"dc":0.10,"r":0.95,"dr":0.025},{"s":"r","e":0.8406,"c":4.99,"dc":0.10,"r":0.93,"dr":0.025},{"s":"r","e":0.8599,"c":5.30,"dc":0.10,"r":0.90,"dr":0.025},{"s":"r","e":0.8801,"c":5.01,"dc":0.10,"r":0.96,"dr":0.025},{"s":"r","e":0.9013,"c":5.06,"dc":0.10,"r":0.95,"dr":0.025},{"s":"r","e":0.9226,"c":4.84,"dc":0.10,"r":0.99,"dr":0.025},{"s":"r","e":0.9438,"c":5.00,"dc":0.10,"r":0.93,"dr":0.025},{"s":"r","e":0.9661,"c":4.83,"dc":0.10,"r":0.99,"dr":0.025},{"s":"r","e":0.9893,"c":4.58,"dc":0.09,"r":1.03,"dr":0.025},
{"s":"r","e":1.000,"c":4.71,"dc":0.167,"r":1.04,"dr":0.035},{"s":"r","e":1.035,"c":4.58,"dc":0.159,"r":1.01,"dr":0.035},{"s":"r","e":1.072,"c":4.16,"dc":0.153,"r":1.04,"dr":0.035},{"s":"r","e":1.109,"c":4.32,"dc":0.148,"r":1.00,"dr":0.035},{"s":"r","e":1.148,"c":4.04,"dc":0.141,"r":1.05,"dr":0.035},{"s":"r","e":1.189,"c":3.78,"dc":0.135,"r":1.06,"dr":0.035},{"s":"r","e":1.230,"c":3.83,"dc":0.129,"r":1.01,"dr":0.035},{"s":"r","e":1.274,"c":3.43,"dc":0.124,"r":1.02,"dr":0.035},{"s":"r","e":1.318,"c":3.41,"dc":0.117,"r":1.07,"dr":0.035},{"s":"r","e":1.365,"c":3.13,"dc":0.111,"r":1.00,"dr":0.035},{"s":"r","e":1.413,"c":3.09,"dc":0.105,"r":1.03,"dr":0.035},{"s":"r","e":1.462,"c":2.66,"dc":0.197,"r":1.05,"dr":0.07},{"s":"r","e":1.514,"c":2.70,"dc":0.186,"r":0.96,"dr":0.07},{"s":"r","e":1.567,"c":2.59,"dc":0.176,"r":1.04,"dr":0.07},{"s":"r","e":1.622,"c":2.30,"dc":0.162,"r":1.07,"dr":0.07},{"s":"r","e":1.679,"c":2.04,"dc":0.150,"r":1.00,"dr":0.07},{"s":"r","e":1.738,"c":1.97,"dc":0.130,"r":1.01,"dr":0.07},{"s":"r","e":1.799,"c":1.57,"dc":0.113,"r":1.06,"dr":0.07},{"s":"r","e":1.862,"c":1.43,"dc":0.099,"r":0.97,"dr":0.07},{"s":"r","e":1.928,"c":1.33,"dc":0.090,"r":1.04,"dr":0.07},{"s":"r","e":1.995,"c":1.07,"dc":0.080,"r":1.01,"dr":0.07},{"s":"r","e":2.065,"c":1.05,"dc":0.144,"r":0.94,"dr":0.14},{"s":"r","e":2.138,"c":0.896,"dc":0.126,"r":1.11,"dr":0.14},{"s":"r","e":2.213,"c":0.829,"dc":0.110,"r":0.98,"dr":0.14},{"s":"r","e":2.291,"c":0.620,"dc":0.093,"r":1.04,"dr":0.14},{"s":"r","e":2.371,"c":0.601,"dc":0.077,"r":0.94,"dr":0.14},{"s":"r","e":2.455,"c":0.481,"dc":0.070,"r":1.07,"dr":0.14},{"s":"r","e":2.541,"c":0.455,"dc":0.063,"r":0.99,"dr":0.14},{"s":"r","e":2.630,"c":0.356,"dc":0.086,"r":0.88,"dr":0.22},{"s":"r","e":2.723,"c":0.386,"dc":0.079,"r":1.07,"dr":0.22},{"s":"r","e":2.818,"c":0.374,"dc":0.074,"r":1.04,"dr":0.22},{"s":"r","e":2.917,"c":0.297,"dc":0.068,"r":0.90,"dr":0.22},{"s":"r","e":3.020,"c":0.288,"dc":0.065,"r":1.13,"dr":0.22},{"s":"r","e":3.126,"c":0.320,"dc":0.061,"r":0.98,"dr":0.22},{"s":"r","e":3.236,"c":0.219,"dc":0.066,"r":1.10,"dr":0.34},{"s":"r","e":3.350,"c":0.240,"dc":0.062,"r":0.80,"dr":0.34},{"s":"r","e":3.467,"c":0.246,"dc":0.057,"r":1.02,"dr":0.34},{"s":"r","e":3.589,"c":0.166,"dc":0.053,"r":1.15,"dr":0.34},{"s":"r","e":3.715,"c":0.204,"dc":0.050,"r":0.92,"dr":0.34},{"s":"r","e":3.846,"c":0.214,"dc":0.047,"r":0.98,"dr":0.34},{"s":"r","e":3.981,"c":0.157,"dc":0.044,"r":1.24,"dr":0.34},{"s":"r","e":4.121,"c":0.154,"dc":0.046,"r":0.85,"dr":0.38},{"s":"r","e":4.266,"c":0.175,"dc":0.043,"r":1.09,"dr":0.38},{"s":"r","e":4.416,"c":0.105,"dc":0.039,"r":0.78,"dr":0.38},{"s":"r","e":4.571,"c":0.139,"dc":0.036,"r":1.90,"dr":0.60},{"s":"r","e":4.732,"c":0.122,"dc":0.034,"r":0.93,"dr":0.38},{"s":"r","e":4.898,"c":0.0947,"dc":0.033,"r":1.04,"dr":0.38},{"s":"r","e":5.070,"c":0.136,"dc":0.030,"r":0.69,"dr":0.38},{"s":"r","e":5.248,"c":0.0888,"dc":0.029,"r":1.19,"dr":0.40},{"s":"r","e":5.433,"c":0.102,"dc":0.026,"r":1.00,"dr":0.40},{"s":"r","e":5.623,"c":0.0652,"dc":0.024,"r":0.84,"dr":0.40},{"s":"r","e":5.821,"c":0.0921,"dc":0.022,"r":1.32,"dr":0.40},{"s":"r","e":6.026,"c":0.0639,"dc":0.020,"r":0.76,"dr":0.40},{"s":"r","e":6.237,"c":0.0427,"dc":0.018,"r":1.14,"dr":0.40},{"s":"r","e":6.457,"c":0.0587,"dc":0.015,"r":0.89,"dr":0.40},{"s":"r","e":6.683,"c":0.0467,"dc":0.013,"r":1.27,"dr":0.40},{"s":"r","e":6.918,"c":0.0291,"dc":0.011,"r":0.70,"dr":0.40},{"s":"r","e":7.161,"c":0.0426,"dc":0.0103,"r":1.55,"dr":0.60},{"s":"r","e":7.413,"c":0.0258,"dc":0.0088,"r":1.18,"dr":0.42},{"s":"r","e":7.674,"c":0.0279,"dc":0.0076,"r":0.94,"dr":0.42},{"s":"r","e":7.943,"c":0.0129,"dc":0.0065,"r":0.76,"dr":0.42},{"s":"r","e":8.222,"c":0.0164,"dc":0.0051,"r":1.39,"dr":0.42},{"s":"r","e":8.511,"c":0.0166,"dc":0.0042,"r":0.85,"dr":0.42},{"s":"r","e":8.810,"c":0.0090,"dc":0.0034,"r":1.03,"dr":0.42},{"s":"r","e":9.120,"c":0.0090,"dc":0.0030,"r":1.27,"dr":0.42},{"s":"r","e":9.441,"c":0.0116,"dc":0.0026,"r":0.61,"dr":0.42},{"s":"r","e":9.772,"c":0.00565,"dc":0.0022,"r":1.12,"dr":0.42},
{"s":"r","e":1.017,"c":4.86,"dc":0.163,"r":0.99,"dr":0.035},{"s":"r","e":1.053,"c":4.42,"dc":0.156,"r":1.02,"dr":0.035},{"s":"r","e":1.091,"c":4.38,"dc":0.150,"r":1.06,"dr":0.035},{"s":"r","e":1.128,"c":4.03,"dc":0.145,"r":1.00,"dr":0.035},{"s":"r","e":1.168,"c":4.05,"dc":0.138,"r":1.04,"dr":0.035},{"s":"r","e":1.210,"c":3.77,"dc":0.132,"r":1.07,"dr":0.035},{"s":"r","e":1.251,"c":3.43,"dc":0.126,"r":1.02,"dr":0.035},{"s":"r","e":1.296,"c":3.52,"dc":0.120,"r":1.00,"dr":0.035},{"s":"r","e":1.341,"c":3.28,"dc":0.114,"r":1.06,"dr":0.035},{"s":"r","e":1.389,"c":3.02,"dc":0.108,"r":1.04,"dr":0.035},{"s":"r","e":1.438,"c":3.01,"dc":0.102,"r":0.99,"dr":0.035},{"s":"r","e":1.487,"c":2.70,"dc":0.192,"r":1.05,"dr":0.07},{"s":"r","e":1.540,"c":2.48,"dc":0.181,"r":1.09,"dr":0.07},{"s":"r","e":1.594,"c":2.57,"dc":0.169,"r":0.99,"dr":0.07},{"s":"r","e":1.650,"c":2.27,"dc":0.155,"r":1.03,"dr":0.07},{"s":"r","e":1.708,"c":1.90,"dc":0.140,"r":1.00,"dr":0.07},{"s":"r","e":1.768,"c":1.78,"dc":0.122,"r":1.06,"dr":0.07},{"s":"r","e":1.830,"c":1.51,"dc":0.106,"r":0.96,"dr":0.07},{"s":"r","e":1.894,"c":1.41,"dc":0.094,"r":1.06,"dr":0.07},{"s":"r","e":1.962,"c":1.13,"dc":0.084,"r":1.04,"dr":0.07},{"s":"r","e":2.030,"c":1.09,"dc":0.076,"r":0.99,"dr":0.07},{"s":"r","e":2.101,"c":1.07,"dc":0.135,"r":1.08,"dr":0.14},{"s":"r","e":2.175,"c":0.810,"dc":0.119,"r":0.93,"dr":0.14},{"s":"r","e":2.252,"c":0.703,"dc":0.102,"r":1.03,"dr":0.14},{"s":"r","e":2.331,"c":0.638,"dc":0.084,"r":0.99,"dr":0.14},{"s":"r","e":2.412,"c":0.486,"dc":0.074,"r":0.96,"dr":0.14},{"s":"r","e":2.498,"c":0.510,"dc":0.067,"r":1.07,"dr":0.14},{"s":"r","e":2.585,"c":0.428,"dc":0.060,"r":0.90,"dr":0.14},{"s":"r","e":2.676,"c":0.355,"dc":0.083,"r":1.02,"dr":0.22},{"s":"r","e":2.770,"c":0.373,"dc":0.076,"r":1.12,"dr":0.22},{"s":"r","e":2.867,"c":0.278,"dc":0.072,"r":0.95,"dr":0.22},{"s":"r","e":2.968,"c":0.339,"dc":0.067,"r":0.89,"dr":0.22},{"s":"r","e":3.073,"c":0.300,"dc":0.063,"r":1.07,"dr":0.22},{"s":"r","e":3.180,"c":0.263,"dc":0.058,"r":1.01,"dr":0.22},{"s":"r","e":3.292,"c":0.297,"dc":0.063,"r":0.81,"dr":0.34},{"s":"r","e":3.408,"c":0.203,"dc":0.059,"r":1.22,"dr":0.34},{"s":"r","e":3.527,"c":0.215,"dc":0.056,"r":0.97,"dr":0.34},{"s":"r","e":3.651,"c":0.220,"dc":0.051,"r":1.09,"dr":0.34},{"s":"r","e":3.780,"c":0.157,"dc":0.048,"r":0.88,"dr":0.34},{"s":"r","e":3.913,"c":0.189,"dc":0.045,"r":1.14,"dr":0.34},{"s":"r","e":4.050,"c":0.200,"dc":0.042,"r":1.00,"dr":0.34},{"s":"r","e":4.193,"c":0.141,"dc":0.044,"r":0.69,"dr":0.38},{"s":"r","e":4.340,"c":0.119,"dc":0.042,"r":1.15,"dr":0.38},{"s":"r","e":4.493,"c":0.159,"dc":0.038,"r":1.07,"dr":0.38},{"s":"r","e":4.651,"c":0.129,"dc":0.035,"r":0.87,"dr":0.38},{"s":"r","e":4.814,"c":0.0872,"dc":0.033,"r":1.24,"dr":0.38},{"s":"r","e":4.983,"c":0.120,"dc":0.031,"r":0.93,"dr":0.38},{"s":"r","e":5.158,"c":0.129,"dc":0.029,"r":0.82,"dr":0.38},{"s":"r","e":5.339,"c":0.0781,"dc":0.028,"r":1.32,"dr":0.40},{"s":"r","e":5.528,"c":0.0888,"dc":0.025,"r":1.11,"dr":0.40},{"s":"r","e":5.721,"c":0.0723,"dc":0.023,"r":0.73,"dr":0.40},{"s":"r","e":5.922,"c":0.0850,"dc":0.021,"r":1.16,"dr":0.40},{"s":"r","e":6.131,"c":0.0420,"dc":0.019,"r":0.97,"dr":0.40},{"s":"r","e":6.346,"c":0.0648,"dc":0.017,"r":1.24,"dr":0.40},{"s":"r","e":6.569,"c":0.0507,"dc":0.014,"r":0.68,"dr":0.40},{"s":"r","e":6.799,"c":0.0348,"dc":0.012,"r":1.05,"dr":0.40},{"s":"r","e":7.038,"c":0.0438,"dc":0.010,"r":1.38,"dr":0.40},{"s":"r","e":7.286,"c":0.0217,"dc":0.0095,"r":0.85,"dr":0.42},{"s":"r","e":7.542,"c":0.0286,"dc":0.0082,"r":0.91,"dr":0.42},{"s":"r","e":7.807,"c":0.0212,"dc":0.0071,"r":1.21,"dr":0.42},{"s":"r","e":8.081,"c":0.0153,"dc":0.0058,"r":0.73,"dr":0.42},{"s":"r","e":8.365,"c":0.0183,"dc":0.0046,"r":1.30,"dr":0.42},{"s":"r","e":8.659,"c":0.00720,"dc":0.0037,"r":1.03,"dr":0.42},{"s":"r","e":8.963,"c":0.0106,"dc":0.0032,"r":0.82,"dr":0.42},{"s":"r","e":9.279,"c":0.0113,"dc":0.0028,"r":1.15,"dr":0.42},{"s":"r","e":9.605,"c":0.00673,"dc":0.0025,"r":0.61,"dr":0.42},{"s":"r","e":9.942,"c":0.00491,"dc":0.0021,"r":1.24,"dr":0.42}
],
"inset":[
{"s":"b","e":8.85,"de":0.42,"r":1.054,"dr":0.057},{"s":"b","e":8.12,"de":0.31,"r":0.958,"dr":0.057},{"s":"b","e":7.58,"de":0.23,"r":1.048,"dr":0.052},{"s":"b","e":7.15,"de":0.19,"r":0.980,"dr":0.050},{"s":"b","e":6.82,"de":0.16,"r":1.090,"dr":0.052},{"s":"b","e":6.55,"de":0.12,"r":1.216,"dr":0.060},{"s":"b","e":6.33,"de":0.10,"r":1.153,"dr":0.055},{"s":"b","e":6.13,"de":0.09,"r":1.151,"dr":0.055},{"s":"b","e":5.94,"de":0.09,"r":1.125,"dr":0.050},{"s":"b","e":5.75,"de":0.09,"r":1.024,"dr":0.050},{"s":"b","e":5.57,"de":0.08,"r":1.019,"dr":0.050},{"s":"b","e":5.38,"de":0.08,"r":0.905,"dr":0.046},{"s":"b","e":5.21,"de":0.07,"r":1.057,"dr":0.050},{"s":"b","e":5.09,"de":0.06,"r":1.006,"dr":0.050},{"s":"b","e":4.94,"de":0.06,"r":0.905,"dr":0.046},{"s":"b","e":4.79,"de":0.06,"r":0.914,"dr":0.046},{"s":"b","e":4.67,"de":0.05,"r":0.968,"dr":0.046},{"s":"b","e":4.55,"de":0.05,"r":0.973,"dr":0.046},{"s":"b","e":4.45,"de":0.05,"r":1.010,"dr":0.046},{"s":"b","e":4.35,"de":0.05,"r":1.042,"dr":0.050},{"s":"b","e":4.25,"de":0.04,"r":1.014,"dr":0.050},{"s":"b","e":4.17,"de":0.04,"r":1.057,"dr":0.050},{"s":"b","e":4.08,"de":0.04,"r":1.034,"dr":0.050},
{"s":"r","e":8.98,"de":0.47,"r":0.957,"dr":0.076},{"s":"r","e":8.19,"de":0.32,"r":0.934,"dr":0.068},{"s":"r","e":7.64,"de":0.22,"r":1.006,"dr":0.074},{"s":"r","e":7.24,"de":0.18,"r":1.038,"dr":0.074},{"s":"r","e":6.94,"de":0.13,"r":1.039,"dr":0.074},{"s":"r","e":6.67,"de":0.12,"r":1.189,"dr":0.082},{"s":"r","e":6.44,"de":0.11,"r":1.213,"dr":0.087},{"s":"r","e":6.26,"de":0.10,"r":1.143,"dr":0.080},{"s":"r","e":6.07,"de":0.09,"r":1.229,"dr":0.084},{"s":"r","e":5.89,"de":0.09,"r":1.086,"dr":0.072},{"s":"r","e":5.71,"de":0.08,"r":1.029,"dr":0.069},{"s":"r","e":5.55,"de":0.08,"r":1.240,"dr":0.084},{"s":"r","e":5.39,"de":0.07,"r":1.001,"dr":0.072},{"s":"r","e":5.24,"de":0.07,"r":1.027,"dr":0.069},{"s":"r","e":5.09,"de":0.06,"r":1.008,"dr":0.068},{"s":"r","e":4.96,"de":0.06,"r":0.999,"dr":0.072},{"s":"r","e":4.84,"de":0.06,"r":1.020,"dr":0.066},{"s":"r","e":4.72,"de":0.06,"r":1.001,"dr":0.070},{"s":"r","e":4.60,"de":0.05,"r":1.054,"dr":0.066},{"s":"r","e":4.49,"de":0.05,"r":1.124,"dr":0.070},{"s":"r","e":4.40,"de":0.05,"r":0.948,"dr":0.062},{"s":"r","e":4.29,"de":0.05,"r":1.014,"dr":0.066},{"s":"r","e":4.18,"de":0.04,"r":1.030,"dr":0.065},{"s":"r","e":4.10,"de":0.04,"r":1.103,"dr":0.064}
]
},
"hconcat":[
{
"width":478,"height":892,
"resolve":{"scale":{"x":"independent","y":"independent"},"axis":{"x":"independent","y":"independent"}},
"layer":[
{
"resolve":{"axis":{"x":"independent","y":"independent"}},
"layer":[
{"data":{"name":"model"},"mark":{"type":"line","strokeWidth":2.5},
"encoding":{"x":{"field":"m","type":"quantitative","scale":{"type":"log","domain":[0.002065,11.98],"reverse":true,"nice":false},"axis":null},
"y":{"field":"e","type":"quantitative","scale":{"type":"log","domain":[0.2805,10.5],"nice":false},"axis":null},
"order":{"field":"e","type":"quantitative"},
"color":{"field":"s","type":"nominal","scale":{"domain":["b","r"],"range":["#000000","#ff0000"]},"legend":null}}},
{"data":{"name":"spec"},"mark":{"type":"errorbar","thickness":1.6},
"encoding":{"x":{"field":"c","type":"quantitative","scale":{"type":"log","domain":[0.002065,11.98],"reverse":true,"nice":false},"axis":null},
"xError":{"field":"dc"},
"y":{"field":"e","type":"quantitative","scale":{"type":"log","domain":[0.2805,10.5],"nice":false},"axis":null},
"color":{"field":"s","type":"nominal","legend":null}}},
{"data":{"name":"spec"},"transform":[{"filter":"datum.e >= 1"}],"mark":{"type":"tick","orient":"vertical","size":6,"thickness":1.5},
"encoding":{"x":{"field":"c","type":"quantitative","scale":{"type":"log","domain":[0.002065,11.98],"reverse":true,"nice":false},"axis":null},
"y":{"field":"e","type":"quantitative","scale":{"type":"log","domain":[0.2805,10.5],"nice":false},"axis":null},
"color":{"field":"s","type":"nominal","legend":null}}},
{"data":{"name":"spec"},"mark":{"type":"circle","size":12,"opacity":1},
"encoding":{"x":{"field":"c","type":"quantitative","scale":{"type":"log","domain":[0.002065,11.98],"reverse":true,"nice":false},"axis":null},
"y":{"field":"e","type":"quantitative","scale":{"type":"log","domain":[0.2805,10.5],"nice":false},"axis":null},
"color":{"field":"s","type":"nominal","legend":null}}},
{"data":{"name":"model"},"mark":{"type":"point","opacity":0},
"encoding":{"x":{"field":"m","type":"quantitative","scale":{"type":"log","domain":[0.002065,11.98],"reverse":true,"nice":false},
"axis":{"orient":"bottom","values":[10,1,0.1,0.01],"format":"~g","ticks":false,"domain":true,"labelAngle":180,"labelBaseline":"alphabetic","labelAlign":"center","labelPadding":9,"labelFontSize":25,"title":"counts s⁻¹ keV⁻¹","titleAngle":180,"titleFontSize":33,"titleX":258,"titleY":50,"titleBaseline":"alphabetic","titleAlign":"center"}},
"y":{"field":"e","type":"quantitative","scale":{"type":"log","domain":[0.2805,10.5],"nice":false},
"axis":{"orient":"left","values":[0.5,1,5,10],"tickSize":-16,"labels":false,"domain":true,"title":null}}}},
{"data":{"name":"model"},"mark":{"type":"point","opacity":0},
"encoding":{"x":{"field":"m","type":"quantitative","scale":{"type":"log","domain":[0.002065,11.98],"reverse":true,"nice":false},
"axis":{"orient":"bottom","values":[10,1,0.1,0.01],"tickSize":-16,"labels":false,"domain":false,"title":null}},
"y":{"field":"e","type":"quantitative","scale":{"type":"log","domain":[0.2805,10.5],"nice":false},
"axis":{"orient":"left","values":[0.3,0.4,0.6,0.7,0.8,0.9,2,3,4,6,7,8,9],"tickSize":-8,"labels":false,"domain":false,"title":null}}}},
{"data":{"name":"model"},"mark":{"type":"point","opacity":0},
"encoding":{"x":{"field":"m","type":"quantitative","scale":{"type":"log","domain":[0.002065,11.98],"reverse":true,"nice":false},
"axis":{"orient":"bottom","values":[0.003,0.004,0.005,0.006,0.007,0.008,0.009,0.02,0.03,0.04,0.05,0.06,0.07,0.08,0.09,0.2,0.3,0.4,0.5,0.6,0.7,0.8,0.9,2,3,4,5,6,7,8,9],"tickSize":-8,"labels":false,"domain":false,"title":null}},
"y":{"field":"e","type":"quantitative","scale":{"type":"log","domain":[0.2805,10.5],"nice":false},
"axis":{"orient":"right","values":[0.5,1,5,10],"tickSize":-16,"labels":false,"domain":true,"title":null}}}},
{"data":{"name":"model"},"mark":{"type":"point","opacity":0},
"encoding":{"x":{"field":"m","type":"quantitative","scale":{"type":"log","domain":[0.002065,11.98],"reverse":true,"nice":false},
"axis":{"orient":"top","values":[10,1,0.1,0.01],"tickSize":-16,"labels":false,"domain":true,"title":null}},
"y":{"field":"e","type":"quantitative","scale":{"type":"log","domain":[0.2805,10.5],"nice":false},
"axis":{"orient":"right","values":[0.3,0.4,0.6,0.7,0.8,0.9,2,3,4,6,7,8,9],"tickSize":-8,"labels":false,"domain":false,"title":null}}}},
{"data":{"name":"model"},"mark":{"type":"point","opacity":0},
"encoding":{"x":{"field":"m","type":"quantitative","scale":{"type":"log","domain":[0.002065,11.98],"reverse":true,"nice":false},
"axis":{"orient":"top","values":[0.003,0.004,0.005,0.006,0.007,0.008,0.009,0.02,0.03,0.04,0.05,0.06,0.07,0.08,0.09,0.2,0.3,0.4,0.5,0.6,0.7,0.8,0.9,2,3,4,5,6,7,8,9],"tickSize":-8,"labels":false,"domain":false,"title":null}},
"y":{"field":"e","type":"quantitative","scale":{"type":"log","domain":[0.2805,10.5],"nice":false},"axis":null}}}
]
},
{
"resolve":{"axis":{"x":"independent","y":"independent"}},
"layer":[
{"data":{"name":"inset"},"mark":{"type":"errorbar","thickness":1.5},
"encoding":{"x":{"field":"r","type":"quantitative","scale":{"domain":[0.686,1.46],"range":[425,221],"nice":false,"zero":false},"axis":null},
"xError":{"field":"dr"},
"y":{"field":"e","type":"quantitative","scale":{"domain":[4,9.5],"range":[807,425],"nice":false,"zero":false},"axis":null},
"color":{"field":"s","type":"nominal","legend":null}}},
{"data":{"name":"inset"},"mark":{"type":"errorbar","thickness":1.5},
"encoding":{"x":{"field":"r","type":"quantitative","scale":{"domain":[0.686,1.46],"range":[425,221],"nice":false,"zero":false},"axis":null},
"y":{"field":"e","type":"quantitative","scale":{"domain":[4,9.5],"range":[807,425],"nice":false,"zero":false},"axis":null},
"yError":{"field":"de"},
"color":{"field":"s","type":"nominal","legend":null}}},
{"data":{"name":"inset"},"transform":[{"filter":"datum.s == 'b'"}],"mark":{"type":"circle","size":30,"opacity":1,"color":"black"},
"encoding":{"x":{"field":"r","type":"quantitative","scale":{"domain":[0.686,1.46],"range":[425,221],"nice":false,"zero":false},"axis":null},
"y":{"field":"e","type":"quantitative","scale":{"domain":[4,9.5],"range":[807,425],"nice":false,"zero":false},"axis":null}}},
{"data":{"name":"inset"},"mark":{"type":"rule","strokeDash":[10,7],"strokeWidth":2.5,"color":"black"},
"encoding":{"x":{"datum":1,"type":"quantitative","scale":{"domain":[0.686,1.46],"range":[425,221],"nice":false,"zero":false},"axis":null},
"y":{"datum":4,"type":"quantitative","scale":{"domain":[4,9.5],"range":[807,425],"nice":false,"zero":false},"axis":null},
"y2":{"datum":9.5}}},
{"data":{"name":"inset"},"mark":{"type":"point","opacity":0},
"encoding":{"x":{"field":"r","type":"quantitative","scale":{"domain":[0.686,1.46],"range":[425,221],"nice":false,"zero":false},
"axis":{"orient":"bottom","offset":-85,"values":[0.8,1,1.2,1.4],"format":"~g","ticks":false,"domain":true,"labelAngle":180,"labelBaseline":"alphabetic","labelAlign":"center","labelPadding":10,"labelFontSize":22,"title":null}},
"y":{"field":"e","type":"quantitative","scale":{"domain":[4,9.5],"range":[807,425],"nice":false,"zero":false},
"axis":{"orient":"left","offset":-221,"values":[4,5,6,7,8,9],"tickSize":-16,"labels":false,"domain":true,"title":null}}}},
{"data":{"name":"inset"},"mark":{"type":"point","opacity":0},
"encoding":{"x":{"field":"r","type":"quantitative","scale":{"domain":[0.686,1.46],"range":[425,221],"nice":false,"zero":false},
"axis":{"orient":"bottom","offset":-85,"values":[0.8,1,1.2,1.4],"tickSize":-16,"labels":false,"domain":false,"title":null}},
"y":{"field":"e","type":"quantitative","scale":{"domain":[4,9.5],"range":[807,425],"nice":false,"zero":false},
"axis":{"orient":"left","offset":-221,"values":[4.2,4.4,4.6,4.8,5.2,5.4,5.6,5.8,6.2,6.4,6.6,6.8,7.2,7.4,7.6,7.8,8.2,8.4,8.6,8.8,9.2,9.4],"tickSize":-8,"labels":false,"domain":false,"title":null}}}},
{"data":{"name":"inset"},"mark":{"type":"point","opacity":0},
"encoding":{"x":{"field":"r","type":"quantitative","scale":{"domain":[0.686,1.46],"range":[425,221],"nice":false,"zero":false},
"axis":{"orient":"bottom","offset":-85,"values":[0.7,0.75,0.85,0.9,0.95,1.05,1.1,1.15,1.25,1.3,1.35,1.45],"tickSize":-8,"labels":false,"domain":false,"title":null}},
"y":{"field":"e","type":"quantitative","scale":{"domain":[4,9.5],"range":[807,425],"nice":false,"zero":false},
"axis":{"orient":"right","offset":-53,"values":[4,5,6,7,8,9],"format":"~g","ticks":false,"domain":true,"labelAngle":270,"labelBaseline":"alphabetic","labelAlign":"center","labelPadding":20,"labelFontSize":22,"title":null}}}},
{"data":{"name":"inset"},"mark":{"type":"point","opacity":0},
"encoding":{"x":{"field":"r","type":"quantitative","scale":{"domain":[0.686,1.46],"range":[425,221],"nice":false,"zero":false},
"axis":{"orient":"top","offset":-425,"values":[0.8,1,1.2,1.4],"tickSize":-16,"labels":false,"domain":true,"title":null}},
"y":{"field":"e","type":"quantitative","scale":{"domain":[4,9.5],"range":[807,425],"nice":false,"zero":false},
"axis":{"orient":"right","offset":-53,"values":[4,5,6,7,8,9],"tickSize":-16,"labels":false,"domain":false,"title":null}}}},
{"data":{"name":"inset"},"mark":{"type":"point","opacity":0},
"encoding":{"x":{"field":"r","type":"quantitative","scale":{"domain":[0.686,1.46],"range":[425,221],"nice":false,"zero":false},
"axis":{"orient":"top","offset":-425,"values":[0.7,0.75,0.85,0.9,0.95,1.05,1.1,1.15,1.25,1.3,1.35,1.45],"tickSize":-8,"labels":false,"domain":false,"title":null}},
"y":{"field":"e","type":"quantitative","scale":{"domain":[4,9.5],"range":[807,425],"nice":false,"zero":false},
"axis":{"orient":"right","offset":-53,"values":[4.2,4.4,4.6,4.8,5.2,5.4,5.6,5.8,6.2,6.4,6.6,6.8,7.2,7.4,7.6,7.8,8.2,8.4,8.6,8.8,9.2,9.4],"tickSize":-8,"labels":false,"domain":false,"title":null}}}}
]
}
]
},
{
"width":160,"height":892,
"resolve":{"axis":{"x":"independent","y":"independent"}},
"layer":[
{"data":{"name":"spec"},"mark":{"type":"errorbar","thickness":1.6},
"encoding":{"x":{"field":"r","type":"quantitative","scale":{"domain":[0,2.91],"reverse":true,"nice":false,"zero":false},"axis":null},
"xError":{"field":"dr"},
"y":{"field":"e","type":"quantitative","scale":{"type":"log","domain":[0.2805,10.5],"nice":false},"axis":null},
"color":{"field":"s","type":"nominal","scale":{"domain":["b","r"],"range":["#000000","#ff0000"]},"legend":null}}},
{"data":{"name":"spec"},"transform":[{"filter":"datum.e >= 1"}],"mark":{"type":"tick","orient":"vertical","size":6,"thickness":1.5},
"encoding":{"x":{"field":"r","type":"quantitative","scale":{"domain":[0,2.91],"reverse":true,"nice":false,"zero":false},"axis":null},
"y":{"field":"e","type":"quantitative","scale":{"type":"log","domain":[0.2805,10.5],"nice":false},"axis":null},
"color":{"field":"s","type":"nominal","legend":null}}},
{"data":{"name":"spec"},"mark":{"type":"circle","size":12,"opacity":1},
"encoding":{"x":{"field":"r","type":"quantitative","scale":{"domain":[0,2.91],"reverse":true,"nice":false,"zero":false},"axis":null},
"y":{"field":"e","type":"quantitative","scale":{"type":"log","domain":[0.2805,10.5],"nice":false},"axis":null},
"color":{"field":"s","type":"nominal","legend":null}}},
{"data":{"name":"model"},"mark":{"type":"rule","strokeDash":[12,8],"strokeWidth":2.5,"color":"black"},
"encoding":{"x":{"datum":1,"type":"quantitative","scale":{"domain":[0,2.91],"reverse":true,"nice":false,"zero":false},"axis":null}}},
{"data":{"name":"model"},"mark":{"type":"point","opacity":0},
"encoding":{"x":{"field":"m","type":"quantitative","scale":{"domain":[0,2.91],"reverse":true,"nice":false,"zero":false},
"axis":{"orient":"bottom","values":[0,1,2],"format":"~g","ticks":false,"domain":true,"labelAngle":180,"labelBaseline":"alphabetic","labelAlign":"center","labelPadding":9,"labelFontSize":25,"title":"data / model","titleAngle":180,"titleFontSize":33,"titleX":80,"titleY":55,"titleBaseline":"alphabetic","titleAlign":"center","titleLimit":1000}},
"y":{"field":"e","type":"quantitative","scale":{"type":"log","domain":[0.2805,10.5],"nice":false},
"axis":{"orient":"left","values":[0.5,1,5,10],"tickSize":-16,"labels":false,"domain":true,"title":null}}}},
{"data":{"name":"model"},"mark":{"type":"point","opacity":0},
"encoding":{"x":{"field":"m","type":"quantitative","scale":{"domain":[0,2.91],"reverse":true,"nice":false,"zero":false},
"axis":{"orient":"bottom","values":[0,1,2],"tickSize":-16,"labels":false,"domain":false,"title":null}},
"y":{"field":"e","type":"quantitative","scale":{"type":"log","domain":[0.2805,10.5],"nice":false},
"axis":{"orient":"left","values":[0.3,0.4,0.6,0.7,0.8,0.9,2,3,4,6,7,8,9],"tickSize":-8,"labels":false,"domain":false,"title":null}}}},
{"data":{"name":"model"},"mark":{"type":"point","opacity":0},
"encoding":{"x":{"field":"m","type":"quantitative","scale":{"domain":[0,2.91],"reverse":true,"nice":false,"zero":false},
"axis":{"orient":"bottom","values":[0.2,0.4,0.6,0.8,1.2,1.4,1.6,1.8,2.2,2.4,2.6,2.8],"tickSize":-8,"labels":false,"domain":false,"title":null}},
"y":{"field":"e","type":"quantitative","scale":{"type":"log","domain":[0.2805,10.5],"nice":false},
"axis":{"orient":"right","values":[0.5,1,5,10],"format":"~g","ticks":false,"domain":true,"labelAngle":270,"labelBaseline":"alphabetic","labelAlign":"center","labelPadding":27,"labelFontSize":24,"title":"Observed-frame energy  (keV)","titleAngle":270,"titleFontSize":42,"titleX":80,"titleY":512,"titleBaseline":"alphabetic","titleAlign":"center"}}}},
{"data":{"name":"model"},"mark":{"type":"point","opacity":0},
"encoding":{"x":{"field":"m","type":"quantitative","scale":{"domain":[0,2.91],"reverse":true,"nice":false,"zero":false},
"axis":{"orient":"top","values":[0,1,2],"tickSize":-16,"labels":false,"domain":true,"title":null}},
"y":{"field":"e","type":"quantitative","scale":{"type":"log","domain":[0.2805,10.5],"nice":false},
"axis":{"orient":"right","values":[0.5,1,5,10],"tickSize":-16,"labels":false,"domain":false,"title":null}}}},
{"data":{"name":"model"},"mark":{"type":"point","opacity":0},
"encoding":{"x":{"field":"m","type":"quantitative","scale":{"domain":[0,2.91],"reverse":true,"nice":false,"zero":false},
"axis":{"orient":"top","values":[0.2,0.4,0.6,0.8,1.2,1.4,1.6,1.8,2.2,2.4,2.6,2.8],"tickSize":-8,"labels":false,"domain":false,"title":null}},
"y":{"field":"e","type":"quantitative","scale":{"type":"log","domain":[0.2805,10.5],"nice":false},
"axis":{"orient":"right","values":[0.3,0.4,0.6,0.7,0.8,0.9,2,3,4,6,7,8,9],"tickSize":-8,"labels":false,"domain":false,"title":null}}}}
]
}
]
}
